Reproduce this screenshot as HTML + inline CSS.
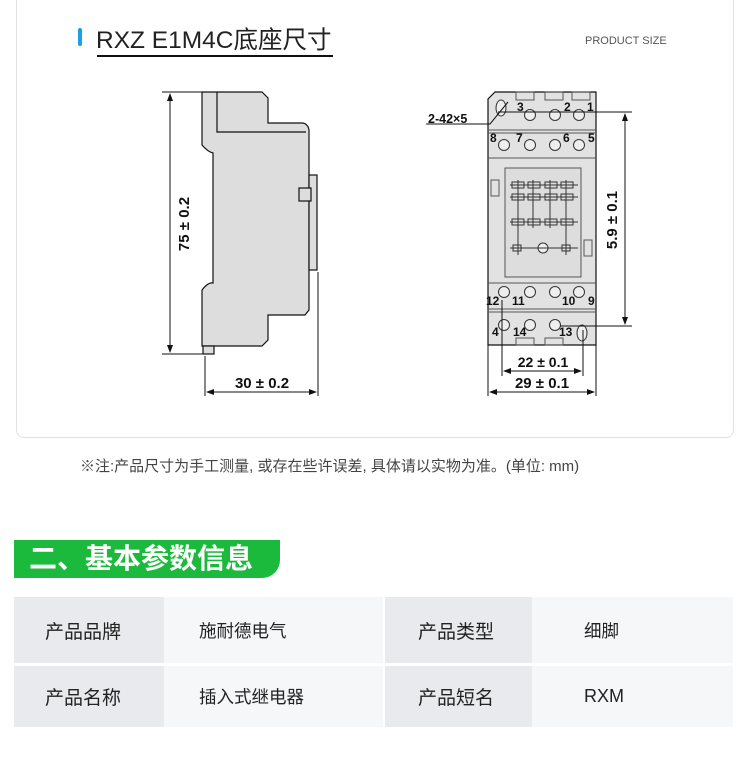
<!DOCTYPE html>
<html><head><meta charset="utf-8"><style>
body{margin:0;width:750px;height:775px;background:#fff;position:relative;overflow:hidden;font-family:"Liberation Sans","Noto Sans CJK SC",sans-serif}
.card{position:absolute;left:16px;top:-10px;width:716px;height:446px;border:1px solid #e2e2e2;border-radius:8px}
.abs{position:absolute}
.cell{position:absolute;font-size:19px;color:#222;display:flex;align-items:center}
</style></head><body>
<div class="card"></div>
<div class="abs" style="left:78px;top:28px;width:4px;height:18px;background:#1aa0e6;border-radius:2px"></div>
<div class="abs" style="left:96px;top:21px;font-size:24.5px;color:#222;white-space:nowrap">RXZ E1M4C底座尺寸</div>
<div class="abs" style="left:97px;top:55px;width:236px;height:2px;background:#111"></div>
<div class="abs" style="left:585px;top:35px;font-size:11px;color:#555">PRODUCT SIZE</div>
<svg class="abs" style="left:0;top:0" width="750" height="440" font-family="Liberation Sans, sans-serif">
<defs><marker id="a" markerWidth="8" markerHeight="8" refX="7" refY="4" orient="auto-start-reverse" markerUnits="userSpaceOnUse"><path d="M0,1 L8,4 L0,7z" fill="#111"/></marker></defs>
<g stroke="#111" stroke-width="1.2" fill="#ddd">
<path d="M202,92 L262,92 L268,98 L268,123 L303,123 Q308,124 309,130 L309,310 L305,315 L268,315 L268,340 L262,346 L214,346 L202,346 L202,290 Q208,282 213,283 L213,153 Q208,152 202,145 Z"/>
<path d="M217,92 L217,132 L306,132" fill="none"/>
<rect x="309" y="175" width="8" height="95" fill="#ddd"/>
<rect x="299" y="188" width="12" height="13" fill="#ddd"/>
<rect x="203" y="346" width="11" height="8" fill="#ddd"/>
</g>
<g stroke="#111" stroke-width="1" fill="none">
<line x1="162" y1="92" x2="202" y2="92"/><line x1="162" y1="354" x2="203" y2="354"/>
<line x1="170" y1="94" x2="170" y2="352" marker-start="url(#a)" marker-end="url(#a)"/>
<line x1="205" y1="356" x2="205" y2="396"/><line x1="318" y1="272" x2="318" y2="396"/>
<line x1="207" y1="392" x2="316" y2="392" marker-start="url(#a)" marker-end="url(#a)"/>
</g>
<text x="189" y="224" font-size="15" font-weight="bold" fill="#111" text-anchor="middle" transform="rotate(-90 189 224)">75 ± 0.2</text>
<text x="262" y="388" font-size="15" font-weight="bold" fill="#111" text-anchor="middle">30 ± 0.2</text>
<g stroke="#111" stroke-width="1.2" fill="#e2e2e2">
<path d="M495,92 L596,92 L596,345 L488,345 L488,99 Z"/>
</g>
<g stroke="#555" stroke-width="1" fill="none">
<line x1="488" y1="130" x2="596" y2="130"/><line x1="488" y1="133" x2="596" y2="133"/>
<line x1="488" y1="283" x2="596" y2="283"/>
<line x1="488" y1="309" x2="596" y2="309"/><line x1="488" y1="312" x2="596" y2="312"/>
<line x1="488" y1="158" x2="596" y2="158"/>
<rect x="505" y="168" width="76" height="109" fill="#ddd"/>
<rect x="491" y="180" width="8" height="16"/><rect x="584" y="240" width="8" height="16"/>
<rect x="516" y="92" width="18" height="8"/><rect x="545" y="92" width="18" height="8"/><rect x="572" y="92" width="18" height="8"/>
<rect x="516" y="338" width="18" height="7"/><rect x="545" y="338" width="18" height="7"/>
</g>
<g stroke="#333" stroke-width="1" fill="#eee">
<circle cx="530" cy="115" r="5.5"/><circle cx="555" cy="115" r="5.5"/><circle cx="579" cy="115" r="5.5"/>
<circle cx="504" cy="145" r="5.5"/><circle cx="530" cy="145" r="5.5"/><circle cx="555" cy="145" r="5.5"/><circle cx="579" cy="145" r="5.5"/>
<circle cx="504" cy="292" r="5.5"/><circle cx="530" cy="292" r="5.5"/><circle cx="555" cy="292" r="5.5"/><circle cx="579" cy="292" r="5.5"/>
<circle cx="504" cy="325" r="5.5"/><circle cx="530" cy="325" r="5.5"/><circle cx="555" cy="325" r="5.5"/>
<ellipse cx="501" cy="108" rx="5" ry="8"/><ellipse cx="582" cy="333" rx="5" ry="8"/>
<circle cx="543" cy="248" r="5"/>
</g>
<g stroke="#333" stroke-width="1" fill="none">
<line x1="510" y1="185" x2="578" y2="185"/><line x1="510" y1="197" x2="578" y2="197"/><line x1="510" y1="222" x2="578" y2="222"/><line x1="510" y1="248" x2="578" y2="248"/>
<line x1="518" y1="180" x2="518" y2="255"/><line x1="533" y1="180" x2="533" y2="228"/><line x1="550" y1="180" x2="550" y2="228"/><line x1="566" y1="180" x2="566" y2="255"/>
<rect x="512" y="182" width="12" height="6"/><rect x="528" y="182" width="12" height="6"/><rect x="545" y="182" width="12" height="6"/><rect x="561" y="182" width="12" height="6"/>
<rect x="512" y="194" width="12" height="6"/><rect x="528" y="194" width="12" height="6"/><rect x="545" y="194" width="12" height="6"/><rect x="561" y="194" width="12" height="6"/>
<rect x="512" y="219" width="12" height="6"/><rect x="528" y="219" width="12" height="6"/><rect x="545" y="219" width="12" height="6"/><rect x="561" y="219" width="12" height="6"/>
<rect x="513" y="245" width="8" height="6"/><rect x="562" y="245" width="8" height="6"/>
</g>
<g font-size="12" fill="#111" font-weight="bold">
<text x="517" y="111">3</text><text x="564" y="111">2</text><text x="587" y="111">1</text>
<text x="490" y="142">8</text><text x="516" y="142">7</text><text x="563" y="142">6</text><text x="588" y="142">5</text>
<text x="486" y="305">12</text><text x="512" y="305">11</text><text x="562" y="305">10</text><text x="588" y="305">9</text>
<text x="492" y="336">4</text><text x="513" y="336">14</text><text x="559" y="336">13</text>
</g>
<g stroke="#111" stroke-width="1" fill="none">
<path d="M426,124 L490,124 L508,102"/>
<line x1="498" y1="112" x2="632" y2="112"/><line x1="560" y1="326" x2="632" y2="326"/>
<line x1="625" y1="114" x2="625" y2="324" marker-start="url(#a)" marker-end="url(#a)"/>
<line x1="502" y1="300" x2="502" y2="376"/><line x1="583" y1="330" x2="583" y2="376"/>
<line x1="488" y1="345" x2="488" y2="396"/><line x1="596" y1="345" x2="596" y2="396"/>
<line x1="504" y1="371" x2="581" y2="371" marker-start="url(#a)" marker-end="url(#a)"/>
<line x1="490" y1="392" x2="594" y2="392" marker-start="url(#a)" marker-end="url(#a)"/>
</g>
<text x="428" y="123" font-size="12.5" font-weight="bold" fill="#111">2-42×5</text>
<text x="617" y="220" font-size="15" font-weight="bold" fill="#111" text-anchor="middle" transform="rotate(-90 617 220)">5.9 ± 0.1</text>
<text x="543" y="367" font-size="14" font-weight="bold" fill="#111" text-anchor="middle">22 ± 0.1</text>
<text x="542" y="388" font-size="15" font-weight="bold" fill="#111" text-anchor="middle">29 ± 0.1</text>
</svg>
<div class="abs" style="left:80px;top:455px;font-size:15px;color:#444;white-space:nowrap">※注:产品尺寸为手工测量, 或存在些许误差, 具体请以实物为准。(单位: mm)</div>
<div class="abs" style="left:14px;top:540px;width:266px;height:38px;background:#1cba3c;border-bottom-right-radius:18px"></div>
<div class="abs" style="left:29px;top:540px;font-size:28px;line-height:38px;color:#fff;font-weight:bold;white-space:nowrap">二、基本参数信息</div>
<div class="cell" style="left:14px;top:597px;width:150px;height:66px;background:#e9eaee;padding-left:31px;box-sizing:border-box">产品品牌</div>
<div class="cell" style="left:164px;top:597px;width:219px;height:66px;background:#f6f7f9;padding-left:35px;box-sizing:border-box;font-size:17.5px">施耐德电气</div>
<div class="cell" style="left:385px;top:597px;width:147px;height:66px;background:#e9eaee;padding-left:33px;box-sizing:border-box">产品类型</div>
<div class="cell" style="left:532px;top:597px;width:201px;height:66px;background:#f6f7f9;padding-left:52px;box-sizing:border-box;font-size:17.5px">细脚</div>
<div class="cell" style="left:14px;top:666px;width:150px;height:61px;background:#e9eaee;padding-left:31px;box-sizing:border-box">产品名称</div>
<div class="cell" style="left:164px;top:666px;width:219px;height:61px;background:#f6f7f9;padding-left:35px;box-sizing:border-box;font-size:17.5px">插入式继电器</div>
<div class="cell" style="left:385px;top:666px;width:147px;height:61px;background:#e9eaee;padding-left:33px;box-sizing:border-box">产品短名</div>
<div class="cell" style="left:532px;top:666px;width:201px;height:61px;background:#f6f7f9;padding-left:52px;box-sizing:border-box;font-size:18px">RXM</div>
</body></html>
